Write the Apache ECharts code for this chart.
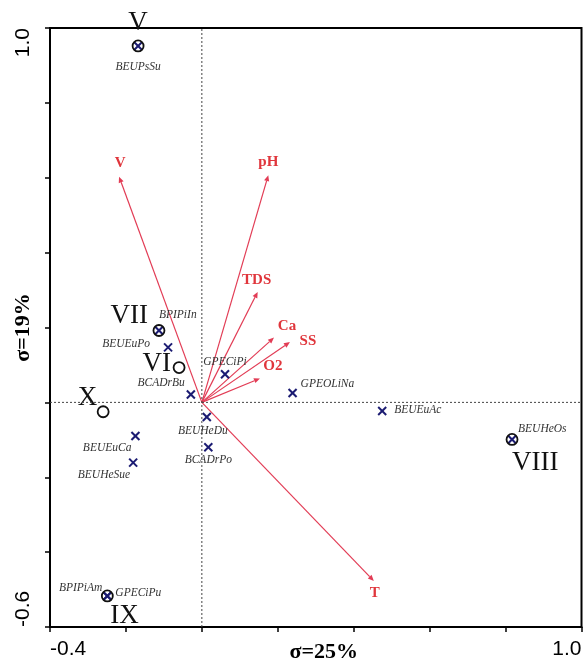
<!DOCTYPE html>
<html>
<head>
<meta charset="utf-8">
<script src="https://cdn.jsdelivr.net/npm/echarts@6/dist/echarts.min.js"></script>
<style>
  html, body { margin: 0; padding: 0; background: #fff; }
  #chart { width: 583px; height: 660px; }
</style>
</head>
<body>
<div id="chart"></div>
<script>
// Axis ranges and the tick labels shown at the ends of each axis
const xRange = [-0.4, 1.0];
const yRange = [-0.6, 1.0];
const tickStep = 0.2;
const xTickLabels = ['-0.4', '1.0'];
const yTickLabels = ['-0.6', '1.0'];
const xAxisTitle = 'σ=25%';
const yAxisTitle = 'σ=19%';

// Sampling sites (ordination scores)
const siteNames = ['BEUPsSu', 'BPIPiIn', 'BEUEuPo', 'BCADrBu', 'GPECiPi', 'BEUHeDu', 'BCADrPo',
                   'BEUEuCa', 'BEUHeSue', 'GPEOLiNa', 'BEUEuAc', 'BEUHeOs', 'BPIPiAm', 'GPECiPu'];
const siteX = [-0.168, -0.113, -0.089, -0.029, 0.061, 0.013, 0.017,
               -0.175, -0.181, 0.239, 0.475, 0.817, -0.249, -0.249];
const siteY = [0.952, 0.192, 0.147, 0.021, 0.075, -0.039, -0.120,
               -0.090, -0.161, 0.025, -0.023, -0.099, -0.517, -0.517];

// Group centroids (roman numerals)
const groupNames = ['V', 'VI', 'VII', 'VIII', 'IX', 'X'];
const groupX = [-0.168, -0.060, -0.113, 0.817, -0.249, -0.260];
const groupY = [0.952, 0.093, 0.192, -0.099, -0.517, -0.025];

// Environmental variable vectors
const envNames = ['V', 'pH', 'TDS', 'Ca', 'SS', 'O2', 'T'];
const envX = [-0.218, 0.175, 0.147, 0.190, 0.232, 0.153, 0.453];
const envY = [0.603, 0.607, 0.295, 0.173, 0.161, 0.064, -0.477];

// Label placement (align, dx, dy in pixels)
const siteLabelPlace = {
  BEUPsSu: ['center', 0, 21], BPIPiIn: ['left', 0, -16], BEUEuPo: ['right', -18, -3],
  BCADrBu: ['right', -6, -12], GPECiPi: ['center', 0, -12], BEUHeDu: ['center', -4, 14],
  BCADrPo: ['center', 0, 13], BEUEuCa: ['right', -4, 12], BEUHeSue: ['right', -3, 12],
  GPEOLiNa: ['left', 8, -9], BEUEuAc: ['left', 12, -1], BEUHeOs: ['left', 6, -10],
  BPIPiAm: ['right', -5, -8], GPECiPu: ['left', 8, -3]
};
const groupLabelPlace = {
  V: ['center', 0, -23], VI: ['right', -8, -4], VII: ['right', -11, -15],
  VIII: ['left', 0, 23], IX: ['left', 3, 20], X: ['right', -6, -14]
};
const envLabelPlace = {
  V: [1, -14], pH: [0, -13], TDS: [-1, -12], Ca: [13, -11], SS: [18, -1], O2: [13, -12], T: [1, 12]
};

const serif = '"Liberation Serif", "Times New Roman", serif';
const sans = '"Liberation Sans", Arial, sans-serif';
const navy = '#1b1b72';
const arrowColor = '#e23c55';
const envTextColor = '#e0363c';

function tickFormatter(labels, range) {
  return function (v) {
    if (Math.abs(v - range[0]) < 1e-6) return labels[0];
    if (Math.abs(v - range[1]) < 1e-6) return labels[1];
    return '';
  };
}

const chart = echarts.init(document.getElementById('chart'), null, { renderer: 'canvas' });

const option = {
  animation: false,
  backgroundColor: '#fff',
  grid: {
    left: 50, right: 1.5, top: 28, bottom: 33,
    outerBoundsMode: 'none', containLabel: false,
    show: true, borderColor: '#000', borderWidth: 2
  },
  xAxis: {
    type: 'value', min: xRange[0], max: xRange[1], interval: tickStep,
    splitLine: { show: false },
    axisLine: { show: true, onZero: false, lineStyle: { color: '#000', width: 2 } },
    axisTick: { show: true, length: 5, lineStyle: { color: '#000', width: 1.5 } },
    axisLabel: {
      formatter: tickFormatter(xTickLabels, xRange), showMinLabel: true, showMaxLabel: true,
      alignMinLabel: 'left', alignMaxLabel: 'right',
      fontSize: 21, fontFamily: sans, color: '#000', margin: 12
    },
    name: xAxisTitle, nameLocation: 'middle', nameGap: 14, nameMoveOverlap: false,
    nameTextStyle: { fontSize: 22, fontWeight: 'bold', fontFamily: serif, color: '#000', padding: [0, 0, 0, 16] }
  },
  yAxis: {
    type: 'value', min: yRange[0], max: yRange[1], interval: tickStep,
    splitLine: { show: false },
    axisLine: { show: true, onZero: false, lineStyle: { color: '#000', width: 2 } },
    axisTick: { show: true, length: 5, lineStyle: { color: '#000', width: 1.5 } },
    axisLabel: {
      formatter: tickFormatter(yTickLabels, yRange), showMinLabel: true, showMaxLabel: true,
      rotate: 90, alignMinLabel: 'left', alignMaxLabel: 'right',
      fontSize: 21, fontFamily: sans, color: '#000', margin: 16
    },
    name: yAxisTitle, nameLocation: 'middle', nameGap: 16, nameMoveOverlap: false,
    nameTextStyle: { fontSize: 22, fontWeight: 'bold', fontFamily: serif, color: '#000' }
  },
  series: [
    // Dotted zero lines
    {
      type: 'line', symbol: 'none', silent: true,
      data: [[0, yRange[0]], [0, yRange[1]]],
      lineStyle: { color: '#444', width: 1, type: [2, 2] }
    },
    {
      type: 'line', symbol: 'none', silent: true,
      data: [[xRange[0], 0], [xRange[1], 0]],
      lineStyle: { color: '#444', width: 1, type: [2, 2] }
    },
    // Environmental vectors
    {
      type: 'custom', clip: false,
      data: envNames.map((n, i) => [envX[i], envY[i]]),
      encode: { x: 0, y: 1 },
      renderItem: function (params, api) {
        const name = envNames[params.dataIndex];
        const o = api.coord([0, 0]);
        const t = api.coord([api.value(0), api.value(1)]);
        const dx = t[0] - o[0], dy = t[1] - o[1];
        const len = Math.sqrt(dx * dx + dy * dy);
        const ux = dx / len, uy = dy / len;
        const hl = 6, hw = 2.6;
        const bx = t[0] - ux * hl, by = t[1] - uy * hl;
        const p = envLabelPlace[name];
        return {
          type: 'group',
          children: [
            { type: 'line', shape: { x1: o[0], y1: o[1], x2: bx, y2: by },
              style: { stroke: arrowColor, lineWidth: 1.2 } },
            { type: 'polygon',
              shape: { points: [[t[0], t[1]], [bx - uy * hw, by + ux * hw], [bx + uy * hw, by - ux * hw]] },
              style: { fill: arrowColor } },
            { type: 'text',
              style: { text: name, x: t[0] + p[0], y: t[1] + p[1], align: 'center', verticalAlign: 'middle',
                       fontSize: 15, fontWeight: 'bold', fontFamily: serif, fill: envTextColor } }
          ]
        };
      }
    },
    // Sites
    {
      type: 'custom', clip: false,
      data: siteNames.map((n, i) => [siteX[i], siteY[i]]),
      encode: { x: 0, y: 1 },
      renderItem: function (params, api) {
        const name = siteNames[params.dataIndex];
        const c = api.coord([api.value(0), api.value(1)]);
        const s = 4;
        const p = siteLabelPlace[name];
        return {
          type: 'group',
          children: [
            { type: 'line', shape: { x1: c[0] - s, y1: c[1] - s, x2: c[0] + s, y2: c[1] + s },
              style: { stroke: navy, lineWidth: 2 } },
            { type: 'line', shape: { x1: c[0] - s, y1: c[1] + s, x2: c[0] + s, y2: c[1] - s },
              style: { stroke: navy, lineWidth: 2 } },
            { type: 'text',
              style: { text: name, x: c[0] + p[1], y: c[1] + p[2], align: p[0], verticalAlign: 'middle',
                       fontSize: 11.5, fontStyle: 'italic', fontFamily: serif, fill: '#333' } }
          ]
        };
      }
    },
    // Group centroids
    {
      type: 'custom', clip: false,
      data: groupNames.map((n, i) => [groupX[i], groupY[i]]),
      encode: { x: 0, y: 1 },
      renderItem: function (params, api) {
        const name = groupNames[params.dataIndex];
        const c = api.coord([api.value(0), api.value(1)]);
        const p = groupLabelPlace[name];
        return {
          type: 'group',
          children: [
            { type: 'circle', shape: { cx: c[0], cy: c[1], r: 5.5 },
              style: { fill: 'none', stroke: '#111', lineWidth: 1.8 } },
            { type: 'text',
              style: { text: name, x: c[0] + p[1], y: c[1] + p[2], align: p[0], verticalAlign: 'middle',
                       fontSize: 27, fontFamily: serif, fill: '#111' } }
          ]
        };
      }
    }
  ]
};

chart.setOption(option);
</script>
</body>
</html>
